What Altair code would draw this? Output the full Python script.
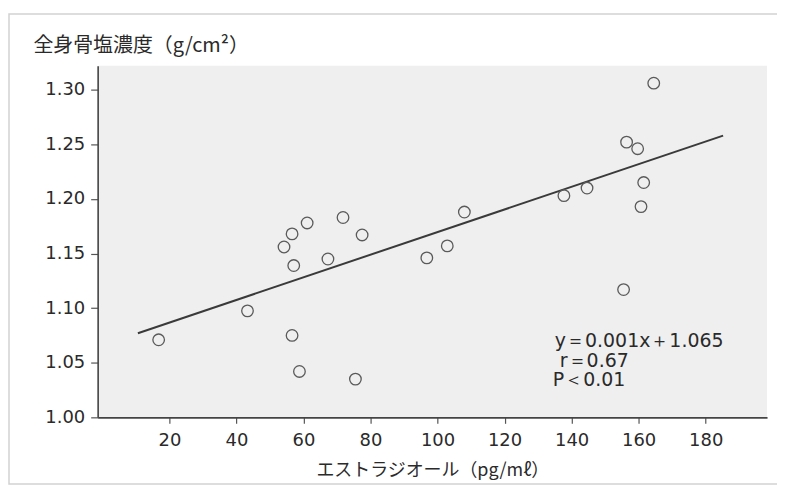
import altair as alt
import pandas as pd

# data
estradiol = [16.8, 43.3, 56.6, 58.8, 75.5, 54.2, 56.6, 61.1, 57.1, 67.3, 71.8, 77.5,
             96.8, 102.9, 108.0, 137.7, 144.6, 155.5, 156.4, 159.7, 161.5, 160.7, 164.5]
bmd = [1.071, 1.0975, 1.075, 1.042, 1.035, 1.156, 1.168, 1.178, 1.139, 1.145, 1.183, 1.167,
       1.146, 1.157, 1.188, 1.203, 1.210, 1.117, 1.252, 1.246, 1.215, 1.193, 1.306]
fit_x = [10.6, 185.2]
fit_y = [1.077, 1.258]
x_ticks = [20, 40, 60, 80, 100, 120, 140, 160, 180]
y_ticks = [1.00, 1.05, 1.10, 1.15, 1.20, 1.25, 1.30]
stats_lines = ["y＝0.001x＋1.065", "r＝0.67", "P＜0.01"]

pts = pd.DataFrame({"x": estradiol, "y": bmd})
fit = pd.DataFrame({"x": fit_x, "y": fit_y})

num_font = "DejaVu Sans"
jp_font = "Noto Sans CJK JP"

xscale = alt.Scale(domain=[-1.4, 198.3], nice=False, zero=False)
yscale = alt.Scale(domain=[1.0, 1.322], nice=False, zero=False)

xaxis = alt.Axis(values=x_ticks, title="エストラジオール（pg/mℓ）", grid=False,
                 labelFont=num_font, labelFontSize=18, labelColor="#2a2a2a",
                 tickColor="#555555", tickSize=6, tickWidth=1.2,
                 domainColor="#444444", domainWidth=1.6, labelPadding=8,
                 titleFont=jp_font, titleFontSize=18, titleFontWeight="normal",
                 titleColor="#2a2a2a", titleY=53, titleBaseline="middle")
yaxis = alt.Axis(values=y_ticks, format=".2f", title="全身骨塩濃度（g/cm²）", grid=False,
                 labelFont=num_font, labelFontSize=18, labelColor="#2a2a2a",
                 tickColor="#555555", tickSize=7, tickWidth=1.2,
                 domainColor="#444444", domainWidth=1.6, labelPadding=6,
                 titleFont=jp_font, titleFontSize=20, titleFontWeight="normal",
                 titleColor="#2a2a2a", titleAngle=0, titleAlign="left",
                 titleX=-65, titleY=-20, titleBaseline="middle")

frame = alt.Chart(pd.DataFrame({"a": [0]})).mark_rect(
    fill=None, stroke="#d2d2d2", strokeWidth=1.5
).encode(x=alt.value(-89), x2=alt.value(720), y=alt.value(-52), y2=alt.value(420))

points = alt.Chart(pts).mark_point(
    shape="circle", filled=False, size=135, color="#5a5a5a", strokeWidth=1.3, opacity=1
).encode(
    x=alt.X("x:Q", scale=xscale, axis=xaxis),
    y=alt.Y("y:Q", scale=yscale, axis=yaxis),
)

line = alt.Chart(fit).mark_line(color="#3a3a3a", strokeWidth=2).encode(
    x=alt.X("x:Q", scale=xscale), y=alt.Y("y:Q", scale=yscale)
)

def stat_text(t, xpx, ypx):
    return alt.Chart(pd.DataFrame({"t": [t]})).mark_text(
        font=num_font, fontSize=19, color="#2a2a2a", align="left", baseline="middle"
    ).encode(x=alt.value(xpx), y=alt.value(ypx), text="t:N")

texts = (stat_text(stats_lines[0], 459, 276)
         + stat_text(stats_lines[1], 464, 296)
         + stat_text(stats_lines[2], 457, 316))

chart = alt.layer(frame, line, points, texts).properties(
    width=672, height=353,
    autosize=alt.AutoSizeParams(type="none"),
    padding={"left": 90, "top": 57, "right": 10, "bottom": 70},
    background="white",
).configure_view(fill="#efefef", stroke=None)

chart.save("out.html", embed_options={"renderer": "svg", "actions": False})
